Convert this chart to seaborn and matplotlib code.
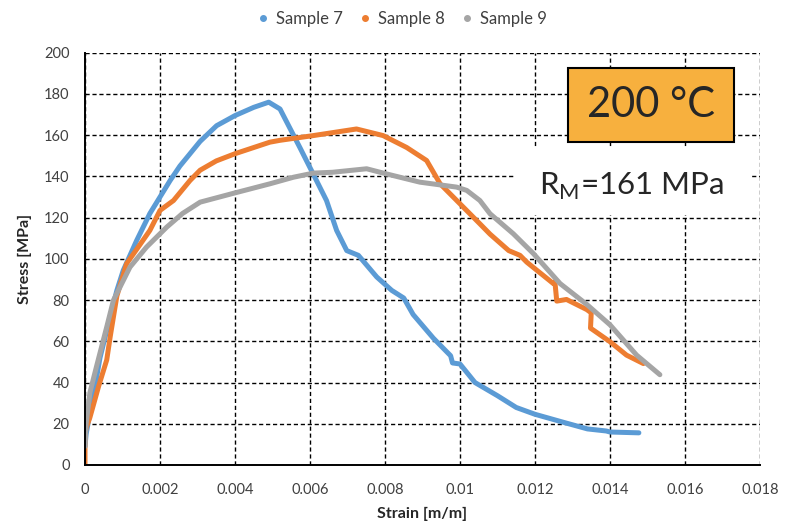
import pandas as pd
import matplotlib.pyplot as plt
import seaborn as sns
from matplotlib.lines import Line2D
from matplotlib.patches import Rectangle


# =========================
# data
# =========================
s7_strain = [0, 0.00003, 0.0001, 0.00022, 0.0004, 0.00067, 0.00085, 0.00102, 0.00138,
             0.00173, 0.00227, 0.00253, 0.00307, 0.00351, 0.004, 0.0045, 0.0049, 0.0052,
             0.00573, 0.00609, 0.00644, 0.00671, 0.00698, 0.00729, 0.00778, 0.00818,
             0.0085, 0.00875, 0.00929, 0.00975, 0.0098, 0.01, 0.0104, 0.011, 0.0115,
             0.012, 0.0128, 0.0134, 0.0139, 0.014, 0.01477]
s7_stress = [9, 15, 22, 33, 52, 72, 84.7, 94.4, 109, 122, 138, 145, 157, 164.6, 169.5,
             173.5, 176, 172.7, 154, 141, 128.3, 113.8, 104, 101.7, 91.2, 84.7, 81, 73,
             61.5, 53, 49.5, 49, 40, 33.6, 27.9, 24.6, 20.5, 17.5, 16.5, 16, 15.6]

s8_strain = [0, 0, 0.00003, 0.00013, 0.00036, 0.00058, 0.00067, 0.00085, 0.00111, 0.00147,
             0.00173, 0.002, 0.00236, 0.0028, 0.00307, 0.0035, 0.004, 0.00493, 0.0052,
             0.00609, 0.00724, 0.00795, 0.00858, 0.00911, 0.00947, 0.01, 0.01053, 0.0108,
             0.0113, 0.0116, 0.01178, 0.01249, 0.01253, 0.01258, 0.01284, 0.01338,
             0.0135, 0.01348, 0.014, 0.01444, 0.01489]
s8_stress = [0, 15, 18, 23, 38, 51, 62, 82, 97.7, 107, 113.8, 123.5, 128.3, 138, 143,
             147.5, 151, 156.6, 157.5, 159.8, 163, 159.8, 154, 147.7, 136.4, 126.7, 117,
             112, 104, 101.7, 98.4, 88, 89, 79.5, 80.3, 75.4, 73.8, 66.4, 59.8, 53.3,
             49.2]

s9_strain = [0, 0.00003, 0.00013, 0.00031, 0.00058, 0.00076, 0.0012, 0.00164, 0.00218,
             0.0026, 0.00307, 0.004, 0.00493, 0.00556, 0.00609, 0.0066, 0.00751, 0.00804,
             0.00893, 0.00991, 0.01018, 0.01053, 0.0108, 0.01142, 0.01196, 0.01267,
             0.01338, 0.014, 0.01471, 0.01533]
s9_stress = [9, 20, 35, 48, 67, 80, 96, 105.7, 115.4, 122, 127.5, 132, 136.4, 139.6,
             141.6, 142, 143.7, 141.2, 137.2, 134.8, 133.2, 128.3, 121.9, 112.2, 102.5,
             88, 77.9, 68, 53.3, 43.8]

samples = ["Sample 7", "Sample 8", "Sample 9"]
colors = ["#5B9BD5", "#ED7D31", "#A5A5A5"]

x_ticks = [0, 0.002, 0.004, 0.006, 0.008, 0.01, 0.012, 0.014, 0.016, 0.018]
x_labels = ["0", "0.002", "0.004", "0.006", "0.008", "0.01", "0.012", "0.014", "0.016", "0.018"]
y_ticks = [0, 20, 40, 60, 80, 100, 120, 140, 160, 180, 200]

temp_label = "200 °C"
rm_label = r"R$_\mathregular{M}$=161 MPa"


def build_frame():
    parts = []
    for name, xs, ys in zip(samples,
                            [s7_strain, s8_strain, s9_strain],
                            [s7_stress, s8_stress, s9_stress]):
        parts.append(pd.DataFrame({"strain": xs, "stress": ys, "sample": name}))
    return pd.concat(parts, ignore_index=True)


def plot_curves(df):
    sns.set_style("white")
    plt.rcParams["font.family"] = ["Lato", "DejaVu Sans"]

    fig = plt.figure(figsize=(7.92, 5.25), dpi=100)
    ax = fig.add_axes([85 / 792, 60 / 525, 675 / 792, 412.3 / 525])

    sns.lineplot(data=df, x="strain", y="stress", hue="sample",
                 palette=dict(zip(samples, colors)), sort=False, estimator=None,
                 linewidth=3.6, legend=False, ax=ax, solid_capstyle="round",
                 solid_joinstyle="round")

    ax.set_xlim(0, 0.018)
    ax.set_ylim(0, 200)
    ax.set_xticks(x_ticks)
    ax.set_xticklabels(x_labels)
    ax.set_yticks(y_ticks)
    ax.tick_params(length=0, labelsize=10.5, colors="#404040")
    ax.tick_params(axis="x", pad=13)
    ax.tick_params(axis="y", pad=11)

    ax.grid(True, color="black", linestyle=(0, (3, 2)), linewidth=1.0)
    ax.set_axisbelow(True)
    for side in ["top", "right"]:
        ax.spines[side].set_visible(False)
    for side in ["left", "bottom"]:
        ax.spines[side].set_color("black")
        ax.spines[side].set_linewidth(1.4)
        ax.spines[side].set_zorder(5)

    ax.set_xlabel("Strain [m/m]", fontsize=11.5, fontweight="bold", labelpad=7)
    ax.set_ylabel("Stress [MPa]", fontsize=11.5, fontweight="bold", labelpad=9)

    # white patch behind the R_M note, orange temperature box
    ax.add_patch(Rectangle((0.637, 0.606), 0.348, 0.163, transform=ax.transAxes,
                           facecolor="white", edgecolor="none", zorder=3))
    ax.text(0.81, 0.655, rm_label, transform=ax.transAxes, ha="center",
            va="baseline", fontsize=22.5, zorder=4)
    ax.add_patch(Rectangle((0.715, 0.7834), 0.2464, 0.1795, transform=ax.transAxes,
                           facecolor="#F7B03E", edgecolor="black", linewidth=1.5,
                           zorder=4))
    ax.text(0.8383, 0.8731, temp_label, transform=ax.transAxes, ha="center",
            va="center", fontsize=30, zorder=5)

    handles = [Line2D([], [], marker="o", linestyle="none", markersize=4,
                      color=c) for c in colors]
    fig.legend(handles, samples, loc="upper center", bbox_to_anchor=(0.508, 1.008),
               ncol=3, frameon=False, fontsize=12, handlelength=0.6,
               handletextpad=0.5, columnspacing=1.0, labelcolor="#404040")

    fig.savefig("out.png", dpi=100)


if __name__ == "__main__":
    plot_curves(build_frame())
